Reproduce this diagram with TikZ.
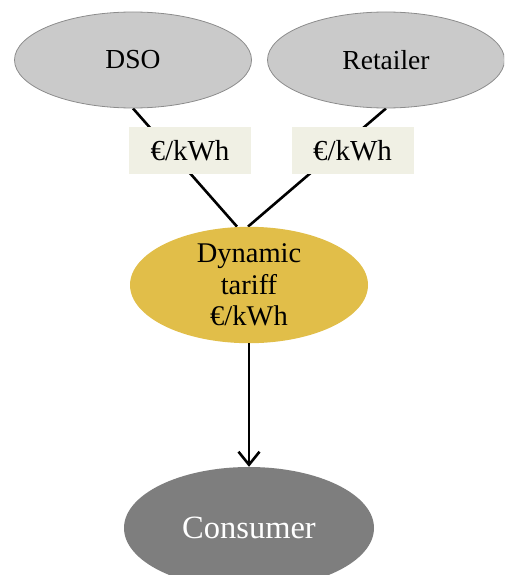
\documentclass[tikz,border=0pt]{standalone}
\usepackage{fontspec}
\setmainfont{Liberation Serif}
\usetikzlibrary{shapes.geometric,arrows.meta,backgrounds}
\definecolor{partygray}{HTML}{CACACA}
\definecolor{partyedge}{HTML}{8C8C8C}
\definecolor{labelfill}{HTML}{F0F0E4}
\definecolor{tariffgold}{HTML}{E1BE49}
\definecolor{consgray}{HTML}{7E7E7E}
\tikzset{
  party/.style={ellipse, draw=partyedge, line width=0.8pt, fill=partygray, inner sep=0pt,
    minimum width=237pt, minimum height=96pt, font=\fontsize{27.5}{31}\selectfont},
  pricebox/.style={rectangle, fill=labelfill, inner sep=0pt, minimum width=122pt,
    minimum height=47pt, font=\fontsize{29}{32}\selectfont},
  tariff/.style={ellipse, fill=tariffgold, inner sep=0pt, minimum width=238pt,
    minimum height=114pt, align=center, font=\fontsize{28.5}{31.5}\selectfont},
  consumer/.style={ellipse, fill=consgray, inner sep=0pt, minimum width=250pt,
    minimum height=122pt, text=white, font=\fontsize{32.5}{36}\selectfont},
  link/.style={line width=2.6pt, black},
}
\begin{document}
\begin{tikzpicture}[x=1pt,y=-1pt]
\useasboundingbox (0,0) rectangle (504,575);
\clip (0,0) rectangle (504,575);
\node[party] (dso) at (133,60) {DSO};
\node[party] (ret) at (386,60) {Retailer};
\node[pricebox] (p1) at (190,150.5) {€/kWh};
\node[pricebox] (p2) at (352.5,150.5) {€/kWh};
\node[tariff] (dyn) at (249,285) {Dynamic\\tariff\\€/kWh};
\node[consumer] (cons) at (249,528) {Consumer};
\begin{pgfonlayer}{background}
\draw[link] (dso.south) -- ([xshift=-12pt]dyn.north);
\draw[link] (ret.south) -- ([xshift=-1pt]dyn.north);
\end{pgfonlayer}
\draw[link, -{Straight Barb[length=13pt,width=21pt,line width=2.6pt]}] (dyn.south) -- (cons.north);
\end{tikzpicture}
\end{document}
